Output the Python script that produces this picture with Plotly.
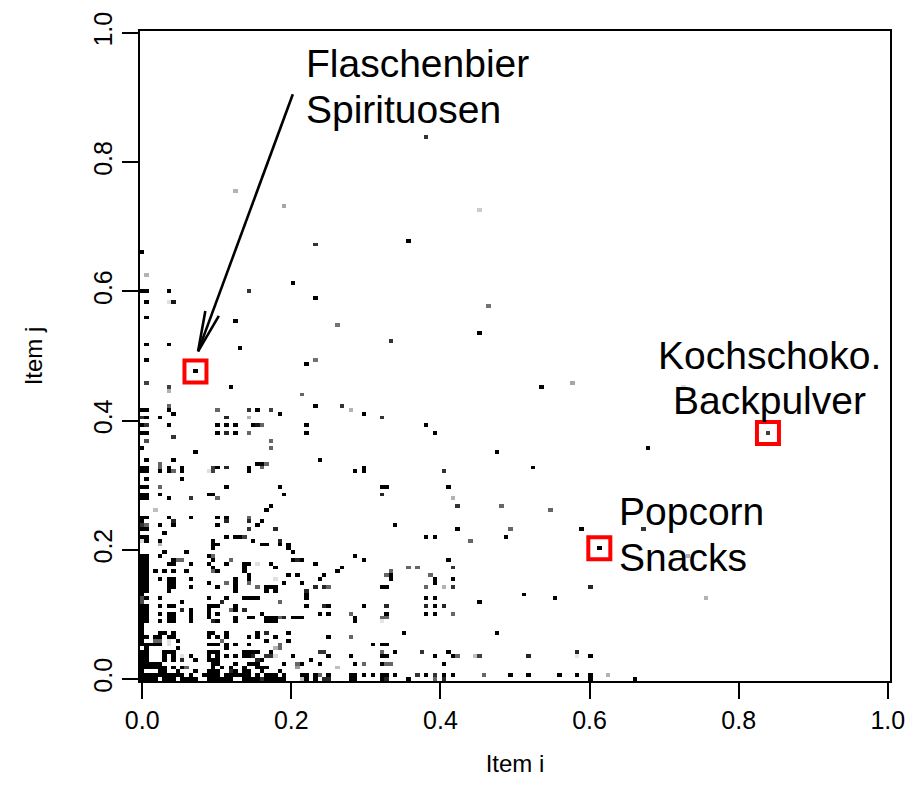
import numpy as np
import plotly.graph_objects as go

N_ITEMS = 169  # items along each axis of the matrix

# (item i index, item j index, shade) with shade 1 = black, 0 = white
cells_upper = [
    (0, 111, 1), (1, 105, 0.3), (64, 141, 0.8), (21, 127, 0.3), (32, 123, 0.35),
    (76, 122, 0.2), (39, 113, 0.8), (60, 114, 1), (0, 101, 1), (1, 101, 1),
    (6, 101, 1), (24, 101, 0.8), (34, 103, 1), (1, 98, 1), (6, 98, 0.12),
    (7, 98, 0.9), (39, 99, 1), (78, 97, 0.55), (1, 94, 1), (21, 93, 1),
    (44, 92, 0.55), (76, 90, 1), (1, 87, 1), (6, 87, 1), (22, 86, 1),
    (56, 88, 0.8), (1, 83, 1), (12, 80, 1), (37, 82, 1), (39, 83, 0.55),
    (122, 76, 0.15), (97, 77, 0.35), (90, 76, 1),
]

cells_middle = [
    (1, 77, 0.75), (20, 76, 1), (6, 76, 0.75), (6, 75, 0.3), (36, 74, 0.6),
    (6, 71, 0.6), (39, 71, 1), (45, 71, 0.8), (47, 70, 0.3), (50, 69, 1), (54, 68, 0.8),
    (0, 70, 1), (1, 70, 1), (6, 70, 1), (17, 70, 0.6), (24, 70, 0.8), (26, 70, 1), (29, 70, 0.75),
    (7, 69, 1), (31, 69, 1),
    (0, 68, 0.8), (1, 68, 1), (4, 68, 1), (19, 68, 0.85), (24, 68, 0.3),
    (0, 66, 1), (1, 66, 0.8), (6, 66, 1), (17, 66, 1), (19, 66, 1), (21, 66, 1), (25, 66, 1),
    (26, 66, 0.9), (27, 66, 0.6), (37, 66, 1), (64, 66, 1),
    (0, 64, 1), (1, 64, 1), (17, 64, 1), (19, 64, 0.85), (21, 64, 1), (24, 64, 0.6), (37, 64, 1),
    (66, 64, 1), (141, 64, 0.75),
    (7, 63, 0.8), (1, 62, 0.7), (29, 62, 0.6), (0, 60, 1), (29, 60, 0.6), (12, 59, 1),
    (80, 59, 1), (114, 60, 1),
    (1, 57, 1), (7, 57, 1), (40, 57, 1),
    (4, 56, 0.6), (26, 56, 1), (27, 56, 1), (28, 56, 0.6),
    (0, 55, 1), (1, 55, 1), (4, 55, 0.6), (6, 55, 1), (9, 55, 1), (16, 55, 0.75), (17, 55, 1),
    (19, 55, 0.85), (24, 55, 1), (27, 55, 0.6), (50, 55, 1), (88, 55, 1),
    (0, 54, 1), (1, 54, 1), (4, 54, 1), (6, 54, 1), (7, 54, 0.6), (9, 54, 1), (15, 54, 0.12),
    (16, 54, 0.75), (24, 54, 1), (48, 54, 1), (50, 54, 1), (68, 54, 0.8),
    (1, 52, 1), (9, 52, 1),
    (0, 50, 1), (1, 50, 1), (4, 50, 0.6), (19, 50, 1), (31, 50, 1), (54, 50, 1), (55, 50, 1), (69, 50, 1),
    (0, 48, 1), (1, 48, 1), (4, 48, 1), (15, 48, 1), (16, 48, 1), (32, 48, 1), (54, 48, 0.85),
    (0, 47, 1), (1, 47, 1), (6, 47, 1), (11, 47, 0.8), (17, 47, 0.6), (70, 47, 0.3),
    (29, 45, 1), (3, 44, 0.25), (28, 44, 1), (71, 45, 0.8), (81, 45, 0.6), (92, 44, 0.6),
    (0, 42, 1), (1, 42, 1), (6, 42, 1), (11, 42, 1), (17, 42, 1), (19, 42, 1), (24, 42, 0.6),
    (0, 41, 1), (7, 41, 0.85), (19, 41, 0.85), (24, 41, 0.85), (27, 41, 1),
    (0, 40, 0.8), (1, 40, 0.6), (4, 40, 1), (7, 40, 1), (17, 40, 1), (26, 40, 1), (57, 40, 1),
    (0, 39, 1), (1, 39, 1), (24, 39, 0.8), (30, 39, 0.85), (71, 39, 1), (83, 39, 0.6),
    (99, 39, 1), (113, 39, 0.8),
    (5, 38, 1), (82, 37, 1),
    (0, 37, 1), (1, 37, 1), (19, 37, 1), (21, 37, 1), (22, 37, 1), (23, 37, 0.75), (64, 37, 1), (66, 37, 1),
    (0, 36, 0.15), (1, 36, 1), (4, 36, 1), (16, 36, 1), (25, 36, 1), (31, 36, 0.85), (74, 36, 0.6),
    (4, 35, 0.3), (16, 35, 1), (17, 35, 1), (27, 35, 1), (28, 35, 1), (31, 35, 1), (33, 35, 1),
    (16, 34, 1), (33, 34, 1), (103, 34, 1), (123, 32, 0.3),
]

cells_lower = [
    (48, 32, 1), (36, 31, 1), (39, 30, 1), (50, 31, 1), (69, 31, 1), (45, 29, 1), (60, 29, 0.6),
    (62, 29, 0.6), (70, 29, 0.8), (44, 28, 1), (56, 28, 0.6), (41, 27, 1), (55, 27, 0.6), (56, 27, 1),
    (56, 26, 1), (65, 27, 0.6), (66, 26, 1), (66, 25, 1), (40, 26, 1), (70, 26, 1), (36, 25, 1),
    (39, 24, 0.85), (41, 24, 0.85), (42, 24, 0.6), (54, 24, 1), (55, 24, 1), (64, 24, 0.6),
    (68, 24, 0.3), (70, 24, 0.8), (101, 24, 0.85),
    (37, 23, 0.85), (37, 22, 1), (37, 21, 1), (64, 21, 1), (66, 21, 1), (76, 20, 1),
    (86, 22, 1), (93, 21, 1), (127, 21, 0.3),
    (37, 19, 1), (41, 19, 0.85), (42, 19, 1), (50, 19, 1), (55, 19, 0.85), (64, 19, 0.85), (66, 19, 1), (68, 19, 0.85),
    (40, 17, 1), (42, 17, 1), (47, 17, 0.6), (55, 17, 1), (64, 17, 1), (66, 17, 1), (70, 17, 0.6),
    (36, 16, 1), (48, 16, 1), (54, 16, 0.6), (55, 16, 0.6), (48, 15, 1), (54, 15, 0.1),
    (59, 12, 1), (80, 12, 1), (42, 11, 1), (47, 11, 0.6), (52, 9, 1), (54, 9, 1), (55, 9, 1),
    (40, 7, 0.8), (41, 7, 0.8), (54, 7, 0.6), (57, 7, 1), (63, 7, 0.8), (69, 7, 1), (98, 7, 0.85),
    (42, 6, 1), (47, 6, 1), (54, 6, 1), (55, 6, 1), (66, 6, 1), (70, 6, 1), (71, 6, 0.6), (75, 6, 0.25),
    (76, 6, 0.75), (87, 6, 0.85), (98, 6, 0.1), (101, 6, 1),
    (38, 5, 1),
    (36, 4, 1), (40, 4, 1), (48, 4, 1), (50, 4, 0.6), (54, 4, 1), (55, 4, 0.6), (56, 4, 0.6), (68, 4, 1),
    (44, 3, 0.25),
    (36, 1, 1), (37, 1, 1), (39, 1, 1), (40, 1, 0.6), (42, 1, 1), (47, 1, 1), (48, 1, 1), (50, 1, 1),
    (52, 1, 1), (54, 1, 1), (55, 1, 1), (57, 1, 1), (62, 1, 0.8), (64, 1, 1), (66, 1, 0.8), (68, 1, 1),
    (70, 1, 1), (77, 1, 0.6), (83, 1, 1), (87, 1, 1), (94, 1, 1), (98, 1, 1), (101, 1, 1), (105, 1, 0.3),
    (36, 0, 0.25), (37, 0, 1), (39, 0, 1), (41, 0, 0.85), (42, 0, 0.85), (47, 0, 1), (48, 0, 1),
    (54, 0, 1), (55, 0, 0.85), (60, 0, 1), (66, 0, 0.6), (68, 0, 0.85), (101, 0, 1), (111, 0, 1),
]

cells_corner = [
    (5, 33, 1), (10, 33, 1), (34, 33, 1),
    (0, 32, 1), (1, 32, 1), (4, 32, 1), (15, 32, 1), (16, 32, 0.6),
    (0, 31, 1), (1, 31, 1), (7, 31, 1), (8, 31, 0.6), (9, 31, 0.6), (16, 31, 1), (20, 31, 0.6),
    (34, 31, 1), (35, 31, 0.85),
    (0, 30, 1), (1, 30, 1), (6, 30, 1), (7, 30, 1), (11, 30, 1), (15, 30, 1), (19, 30, 1),
    (23, 30, 1), (24, 30, 1), (26, 30, 0.12), (29, 30, 1),
    (0, 29, 1), (1, 29, 1), (16, 29, 1), (23, 29, 1), (30, 29, 1),
    (0, 28, 1), (1, 28, 1), (3, 28, 1), (5, 28, 1), (7, 28, 1), (10, 28, 1), (16, 28, 0.6),
    (17, 28, 1), (23, 28, 1),
    (0, 27, 1), (1, 27, 1), (24, 27, 1), (33, 27, 1), (35, 27, 1),
    (0, 26, 1), (1, 26, 1), (4, 26, 1), (6, 26, 1), (7, 26, 1), (11, 26, 1), (21, 26, 1),
    (24, 26, 1), (30, 26, 0.12),
    (0, 25, 1), (1, 25, 1), (6, 25, 1), (7, 25, 1), (15, 25, 1), (19, 25, 0.6), (21, 25, 1),
    (24, 25, 0.6), (32, 25, 1),
    (0, 24, 1), (1, 24, 1), (6, 24, 1), (7, 24, 1), (11, 24, 1), (17, 24, 1), (21, 24, 1),
    (26, 24, 0.6), (28, 24, 1), (29, 24, 1), (30, 24, 1),
    (0, 23, 1), (1, 23, 1), (6, 23, 1), (21, 23, 1), (28, 23, 1), (30, 23, 1),
    (0, 22, 1),
    (0, 21, 0.7), (1, 21, 1), (4, 21, 1), (15, 21, 1), (19, 21, 1), (23, 21, 1), (24, 21, 1),
    (25, 21, 1), (26, 21, 1),
    (0, 20, 0.7), (9, 20, 1), (18, 20, 0.85), (31, 20, 0.6),
    (0, 19, 1), (1, 19, 1), (4, 19, 1), (6, 19, 1), (7, 19, 1), (15, 19, 1), (16, 19, 1),
    (17, 19, 1), (21, 19, 1),
    (0, 18, 1), (1, 18, 1), (9, 18, 0.85), (11, 18, 1), (15, 18, 1), (20, 18, 0.6), (21, 18, 1),
    (23, 18, 0.85),
    (0, 17, 1), (1, 17, 1), (4, 17, 1), (6, 17, 1), (7, 17, 1), (11, 17, 1), (15, 17, 1),
    (17, 17, 1), (27, 17, 1),
    (0, 16, 1), (1, 16, 1), (6, 16, 1), (7, 16, 1), (11, 16, 1), (15, 16, 1), (21, 16, 1),
    (24, 16, 1), (25, 16, 1), (28, 16, 1), (29, 16, 1), (30, 16, 1), (31, 16, 0.6),
    (32, 16, 0.85), (34, 16, 1), (35, 16, 1),
    (0, 15, 1), (1, 15, 1), (4, 15, 1), (6, 15, 1), (7, 15, 1), (11, 15, 1), (16, 15, 0.85),
    (17, 15, 1), (21, 15, 1), (28, 15, 1), (29, 15, 1), (30, 15, 1),
    (0, 14, 1), (0, 13, 1),
    (0, 12, 1), (4, 12, 1), (5, 12, 1), (7, 12, 1), (15, 12, 1), (16, 12, 1), (19, 12, 1),
    (26, 12, 1), (28, 12, 0.85), (33, 12, 1),
    (0, 11, 1), (1, 11, 1), (3, 11, 1), (4, 11, 1), (6, 11, 1), (7, 11, 1), (15, 11, 1),
    (17, 11, 1), (19, 11, 1), (24, 11, 1), (26, 11, 1), (30, 11, 1),
    (0, 10, 1), (3, 10, 0.6), (4, 10, 0.6), (6, 10, 0.12), (8, 10, 1), (18, 10, 0.6),
    (28, 10, 1), (33, 10, 1),
    (0, 9, 1), (1, 9, 1), (2, 9, 1), (3, 9, 1), (4, 9, 1), (6, 9, 0.12), (15, 9, 1), (16, 9, 1),
    (17, 9, 1), (19, 9, 1), (21, 9, 1), (24, 9, 1), (31, 9, 0.6),
    (1, 8, 1), (8, 8, 1), (19, 8, 1), (30, 8, 0.3), (31, 8, 0.6),
    (0, 7, 1), (1, 7, 1), (5, 7, 1), (6, 7, 1), (7, 7, 1), (15, 7, 1), (16, 7, 1), (17, 7, 1),
    (23, 7, 1), (24, 7, 1), (25, 7, 1), (26, 7, 1), (29, 7, 1),
    (0, 6, 1), (1, 6, 1), (5, 6, 1), (7, 6, 1), (9, 6, 0.12), (11, 6, 1), (15, 6, 1), (17, 6, 1),
    (19, 6, 1), (21, 6, 1), (23, 6, 1), (24, 6, 1), (25, 6, 0.85), (28, 6, 0.8), (29, 6, 0.8),
    (30, 6, 0.15), (34, 6, 1),
    (0, 5, 1), (1, 5, 1), (5, 5, 1), (7, 5, 1), (9, 5, 0.85), (12, 5, 1), (15, 5, 1), (16, 5, 1),
    (17, 5, 1), (26, 5, 0.85), (27, 5, 1),
    (0, 4, 1), (1, 4, 1), (2, 4, 1), (3, 4, 1), (4, 4, 1), (16, 4, 1), (17, 4, 1), (21, 4, 1),
    (24, 4, 1), (25, 4, 1), (26, 4, 1), (32, 4, 1), (35, 4, 0.6),
    (0, 3, 1), (1, 3, 1), (2, 3, 1), (3, 3, 1), (4, 3, 1), (5, 3, 1), (7, 3, 1), (9, 3, 1),
    (10, 3, 0.6), (16, 3, 1), (18, 3, 1), (20, 3, 1), (23, 3, 1), (26, 3, 1), (27, 3, 1),
    (28, 3, 1), (35, 3, 0.4),
    (0, 2, 1), (4, 2, 1), (5, 2, 1), (8, 2, 1), (12, 2, 1), (15, 2, 1), (16, 2, 1), (17, 2, 1),
    (20, 2, 0.85), (21, 2, 1), (23, 2, 1), (24, 2, 1), (27, 2, 1), (31, 2, 1),
    (0, 1, 1), (1, 1, 1), (2, 1, 1), (3, 1, 1), (4, 1, 1), (5, 1, 1), (6, 1, 1), (7, 1, 1),
    (8, 1, 1), (9, 1, 1), (11, 1, 1), (14, 1, 1), (15, 1, 1), (16, 1, 1), (17, 1, 1), (19, 1, 1),
    (20, 1, 1), (21, 1, 1), (22, 1, 1), (23, 1, 1), (24, 1, 1), (26, 1, 1), (28, 1, 1),
    (29, 1, 1), (30, 1, 1), (32, 1, 1),
    (0, 0, 1), (1, 0, 1), (2, 0, 1), (3, 0, 1), (5, 0, 1), (6, 0, 1), (7, 0, 1), (9, 0, 1),
    (10, 0, 1), (11, 0, 1), (12, 0, 1), (15, 0, 1), (16, 0, 1), (17, 0, 1), (18, 0, 1),
    (19, 0, 1), (20, 0, 1), (23, 0, 1), (24, 0, 1), (25, 0, 1), (26, 0, 1), (27, 0, 0.8),
    (28, 0, 1), (29, 0, 1), (30, 0, 1), (31, 0, 1), (32, 0, 1),
]

# highlighted item pairs and the two-line labels placed next to them
highlight_cells = [(12, 80), (103, 34), (141, 64)]
label_lines = [
    ("Flaschenbier", 0.217, 0.9533, "left"),
    ("Spirituosen", 0.217, 0.8813, "left"),
    ("Popcorn", 0.637, 0.2591, "left"),
    ("Snacks", 0.637, 0.1876, "left"),
    ("Kochschoko.", 0.842, 0.5015, "center"),
    ("Backpulver", 0.842, 0.4316, "center"),
]

tick_vals = [0.0, 0.2, 0.4, 0.6, 0.8, 1.0]
tick_text = ["0.0", "0.2", "0.4", "0.6", "0.8", "1.0"]

# ---------------------------------------------------------------------------
grid = np.arange(N_ITEMS) / (N_ITEMS - 1)
z = [[None] * N_ITEMS for _ in range(N_ITEMS)]
for group in (cells_upper, cells_middle, cells_lower, cells_corner):
    for ci, cj, s in group:
        z[cj][ci] = s

FONT = "Liberation Sans, Arial, sans-serif"

fig = go.Figure()
fig.add_trace(go.Heatmap(
    x=grid, y=grid, z=z, zmin=0, zmax=1,
    colorscale=[[0, "#ffffff"], [1, "#000000"]],
    showscale=False, hoverongaps=False,
))

hx = [grid[c] for c, r in highlight_cells]
hy = [grid[r] for c, r in highlight_cells]
fig.add_trace(go.Scatter(
    x=hx, y=hy, mode="markers",
    marker=dict(symbol="square-open", size=22, color="#ff0000",
                line=dict(width=4, color="#ff0000")),
    showlegend=False, hoverinfo="skip",
))

# arrow from the first label towards its highlighted cell (open head)
PX_X, PX_Y = 747.6, 653.0
start = np.array([0.202, 0.905])
tip = np.array([grid[highlight_cells[0][0]] + 0.0035, grid[highlight_cells[0][1]] + 0.031])
d = (start - tip) * np.array([PX_X, PX_Y])
d = d / np.linalg.norm(d)
head_len, half_ang = 41.5, np.radians(10)
heads = []
for a in (half_ang, -half_ang):
    rot = np.array([[np.cos(a), -np.sin(a)], [np.sin(a), np.cos(a)]])
    v = rot @ d * head_len
    heads.append(tip + v / np.array([PX_X, PX_Y]))
ax = [start[0], tip[0], None, heads[0][0], tip[0], heads[1][0]]
ay = [start[1], tip[1], None, heads[0][1], tip[1], heads[1][1]]
fig.add_trace(go.Scatter(x=ax, y=ay, mode="lines",
                         line=dict(color="black", width=2.6),
                         showlegend=False, hoverinfo="skip"))

for txt, lx, ly, anc in label_lines:
    fig.add_annotation(x=lx, y=ly, text=txt, showarrow=False, xanchor=anc,
                       yanchor="middle", align=anc,
                       font=dict(family=FONT, size=39, color="black"))

half = 0.5 / (N_ITEMS - 1)
axis_common = dict(
    tickvals=tick_vals, ticktext=tick_text, ticks="outside", ticklen=16,
    tickwidth=1.5, tickcolor="black", showline=True, linecolor="black",
    linewidth=1.5, mirror=True, showgrid=False, zeroline=False,
    tickfont=dict(family=FONT, size=25, color="black"),
)
fig.update_xaxes(range=[-half, 1 + half], title=dict(text="Item i", standoff=22,
                 font=dict(family=FONT, size=24, color="black")), **axis_common)
fig.update_yaxes(range=[-half, 1 + half], tickangle=-90,
                 title=dict(text="Item j", standoff=40,
                            font=dict(family=FONT, size=24, color="black")), **axis_common)

fig.update_layout(
    width=917, height=805,
    margin=dict(l=139.5, r=25.5, t=24, b=124),
    plot_bgcolor="white", paper_bgcolor="white",
    showlegend=False,
)

fig.write_html("out.html")
